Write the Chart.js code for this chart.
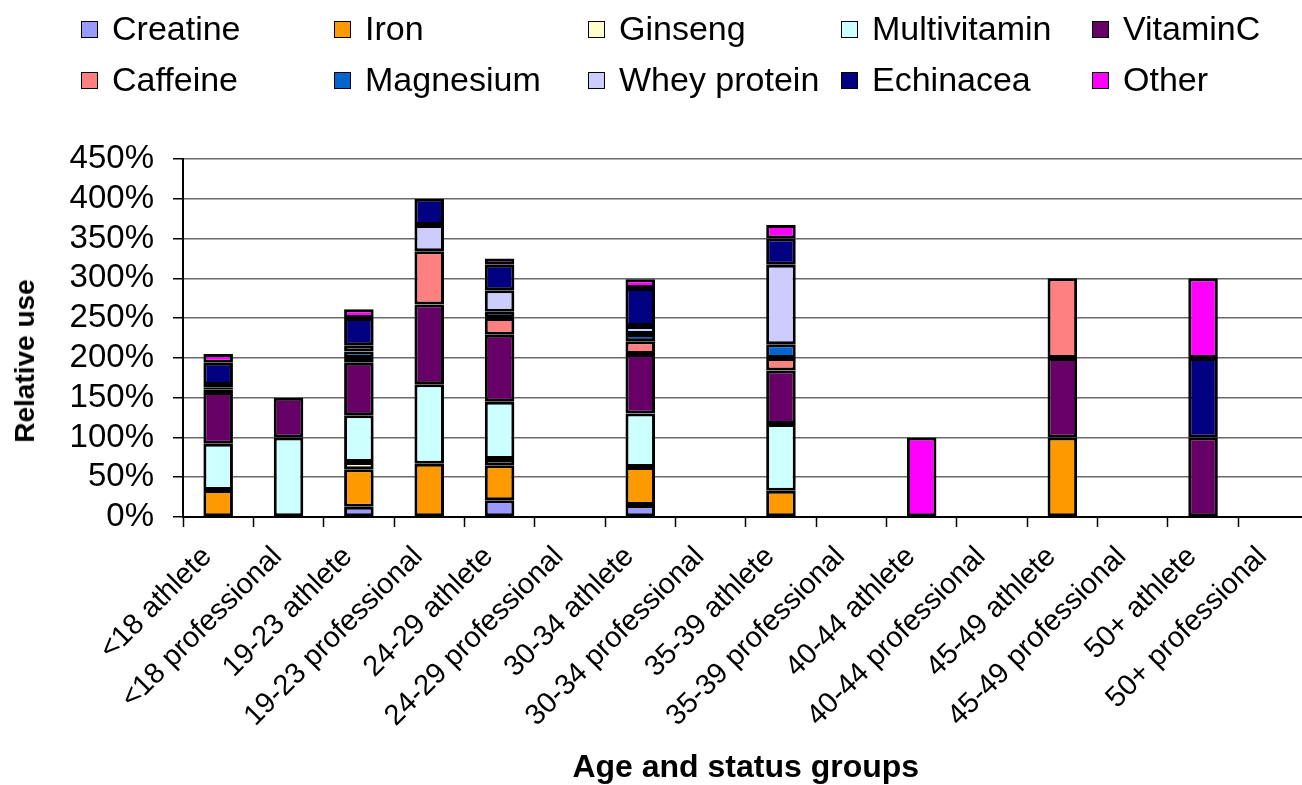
<!DOCTYPE html>
<html>
<head>
<meta charset="utf-8">
<script src="https://cdn.jsdelivr.net/npm/chart.js@4.4.1/dist/chart.umd.min.js"></script>
<style>
  html, body { margin: 0; padding: 0; overflow: hidden; background: #fff; }
  #wrap { position: relative; width: 1302px; height: 785px; overflow: hidden; }
  #c { position: absolute; left: 0; top: 0; }
  .lg-box { position: absolute; width: 15px; height: 15px; border: 1.5px solid #000; }
  .lg-txt { position: absolute; font-family: "Liberation Sans", Arial, sans-serif; font-size: 34px; line-height: 34px; color: #000; white-space: nowrap; }
  #ytitle { position: absolute; left: 25px; top: 361px; transform: translate(-50%, -50%) rotate(-90deg);
            font-family: "Liberation Sans", Arial, sans-serif; font-weight: bold; font-size: 28px; color: #000; white-space: nowrap; }
</style>
</head>
<body>
<div id="wrap">
  <canvas id="c" width="1311" height="785"></canvas>
  <div id="ytitle">Relative use</div>
</div>
<script>
const categories = ['<18 athlete','<18 professional','19-23 athlete','19-23 professional','24-29 athlete','24-29 professional','30-34 athlete','30-34 professional','35-39 athlete','35-39 professional','40-44 athlete','40-44 professional','45-49 athlete','45-49 professional','50+ athlete','50+ professional'];

const seriesNames = ['Creatine','Iron','Ginseng','Multivitamin','VitaminC','Caffeine','Magnesium','Whey protein','Echinacea','Other'];

const creatine     = [0, 0, 13, 0, 21, 0, 15, 0, 0, 0, 0, 0, 0, 0, 0, 0];
const iron         = [34, 0, 47, 67, 44, 0, 48, 0, 33, 0, 0, 0, 100, 0, 0, 0];
const ginseng      = [0, 0, 9, 0, 8, 0, 0, 0, 0, 0, 0, 0, 0, 0, 0, 0];
const multivitamin = [58, 100, 59, 100, 72, 0, 67, 0, 84, 0, 0, 0, 0, 0, 0, 0];
const vitaminC     = [65, 50, 66, 100, 84, 0, 75, 0, 67, 0, 0, 0, 100, 0, 100, 0];
const caffeine     = [3, 0, 6, 67, 21, 0, 16, 0, 16, 0, 0, 0, 100, 0, 0, 0];
const magnesium    = [3, 0, 8, 0, 8, 0, 9, 0, 17, 0, 0, 0, 0, 0, 0, 0];
const wheyProtein  = [3, 0, 8, 33, 27, 0, 10, 0, 100, 0, 0, 0, 0, 0, 0, 0];
const echinacea    = [28, 0, 34, 33, 32, 0, 48, 0, 33, 0, 0, 0, 0, 0, 100, 0];
const other        = [11, 0, 11, 0, 8, 0, 11, 0, 17, 0, 100, 0, 0, 0, 100, 0];

const yTicks = [0, 50, 100, 150, 200, 250, 300, 350, 400, 450];

const seriesValues = [creatine, iron, ginseng, multivitamin, vitaminC, caffeine, magnesium, wheyProtein, echinacea, other];
const seriesColors = ['#9999FF','#FF9900','#FFFFCC','#CCFFFF','#660066','#FF8080','#0066CC','#CCCCFF','#000080','#FF00FF'];

// HTML legend (2 rows x 5 columns)
const wrap = document.getElementById('wrap');
const colX = [81, 334, 588, 841, 1092];
const rowBoxTop = [21, 72];
const rowTxtTop = [11, 62];
seriesNames.forEach((name, i) => {
  const row = i < 5 ? 0 : 1;
  const col = i % 5;
  const b = document.createElement('div');
  b.className = 'lg-box';
  b.style.left = colX[col] + 'px';
  b.style.top = rowBoxTop[row] + 'px';
  b.style.background = seriesColors[i];
  wrap.appendChild(b);
  const t = document.createElement('div');
  t.className = 'lg-txt';
  t.style.left = (colX[col] + 31) + 'px';
  t.style.top = rowTxtTop[row] + 'px';
  t.textContent = name;
  wrap.appendChild(t);
});

const FONT = '"Liberation Sans", Arial, sans-serif';

new Chart(document.getElementById('c'), {
  type: 'bar',
  data: {
    labels: categories,
    datasets: seriesNames.map((n, i) => ({
      label: n,
      // absent segments are not drawn
      data: seriesValues[i].map(v => (v === 0 ? null : v)),
      backgroundColor: seriesColors[i],
      borderColor: '#000',
      borderWidth: 3,
      borderSkipped: false,
      inflateAmount: 0,
      barPercentage: 0.42,
      categoryPercentage: 1.0
    }))
  },
  options: {
    responsive: false,
    animation: false,
    devicePixelRatio: 1,
    layout: { padding: { top: 159, left: 0, right: 0, bottom: 0 } },
    plugins: { legend: { display: false }, tooltip: { enabled: false } },
    scales: {
      x: {
        stacked: true,
        offset: true,
        afterFit: (s) => { s.height = 268; },
        grid: { display: true, drawOnChartArea: false, drawTicks: true, tickLength: 10, color: '#000', tickColor: '#000', tickWidth: 1.5, offset: true },
        border: { display: true, color: '#000', width: 2 },
        ticks: {
          autoSkip: false, maxRotation: 45, minRotation: 45,
          padding: 13, labelOffset: -11,
          color: '#000', font: { family: FONT, size: 29 }
        },
        title: {
          display: true, text: 'Age and status groups', color: '#000',
          font: { family: FONT, size: 32, weight: 'bold' },
          padding: { top: 0, bottom: -2 }
        }
      },
      y: {
        stacked: true,
        min: 0, max: 450,
        afterBuildTicks: (s) => { s.ticks = yTicks.map(v => ({ value: v })); },
        afterFit: (s) => { s.width = 183; },
        grid: { color: '#6a6a6a', lineWidth: 1.5, drawTicks: true, tickLength: 10, tickColor: '#000', tickWidth: 1.5 },
        border: { display: true, color: '#000', width: 2 },
        ticks: {
          autoSkip: false, stepSize: 50,
          padding: 19, color: '#000', font: { family: FONT, size: 33 },
          callback: (v) => v + '%'
        }
      }
    }
  }
});
</script>
</body>
</html>
